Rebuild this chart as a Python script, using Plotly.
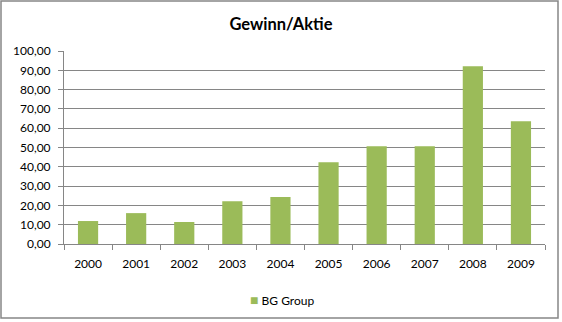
import plotly.graph_objects as go

years = ["2000", "2001", "2002", "2003", "2004", "2005", "2006", "2007", "2008", "2009"]
eps = [11.9, 16.0, 11.4, 22.2, 24.3, 42.4, 50.7, 50.7, 92.1, 63.6]
series_name = "BG Group"
y_ticks = [0, 10, 20, 30, 40, 50, 60, 70, 80, 90, 100]
bar_color = "#9BBB59"

W, H = 562, 322
L, R, T, B = 64, 17, 51, 78
pw, ph = W - L - R, H - T - B

def px_x(p):
    return (p - L) / pw

def px_y(p):
    return (H - B - p) / ph

fig = go.Figure()
fig.add_trace(go.Bar(x=years, y=eps, name=series_name, marker_color=bar_color,
                     marker_line_width=0, showlegend=False))

font = "Lato, 'Open Sans', sans-serif"
fig.update_layout(
    width=W, height=H,
    margin=dict(l=L, r=R, t=T, b=B),
    paper_bgcolor="white", plot_bgcolor="white",
    separators=",.",
    font=dict(family=font, size=12, color="black"),
    title=dict(text="<b>Gewinn/Aktie</b>", x=0.5, xanchor="center", y=1 - 24 / H,
               yanchor="middle", font=dict(size=16.5, family=font, color="black")),
    bargap=0.58,
    xaxis=dict(type="category", showline=True, linecolor="#868686", linewidth=1,
               ticks="outside", ticklen=5, tickcolor="#868686", tickson="boundaries",
               showgrid=False, ticklabelstandoff=9),
    yaxis=dict(range=[0, 100], tickvals=y_ticks, tickformat=".2f", showline=True,
               linecolor="#868686", linewidth=1, ticks="outside", ticklen=5,
               tickcolor="#868686", showgrid=True, gridcolor="#868686", gridwidth=1,
               zeroline=False, ticklabelstandoff=5),
    annotations=[dict(text=f"<span style='color:{bar_color};font-size:14px'>■</span> {series_name}",
                      xref="paper", yref="paper", x=px_x(282), y=px_y(299),
                      xanchor="center", yanchor="middle", showarrow=False,
                      font=dict(size=12, family=font, color="black"))],
    shapes=[dict(type="rect", xref="paper", yref="paper",
                 x0=px_x(1), x1=px_x(558), y0=px_y(318), y1=px_y(1),
                 line=dict(color="#868686", width=1.5), layer="below")],
)

fig.write_html("out.html")
